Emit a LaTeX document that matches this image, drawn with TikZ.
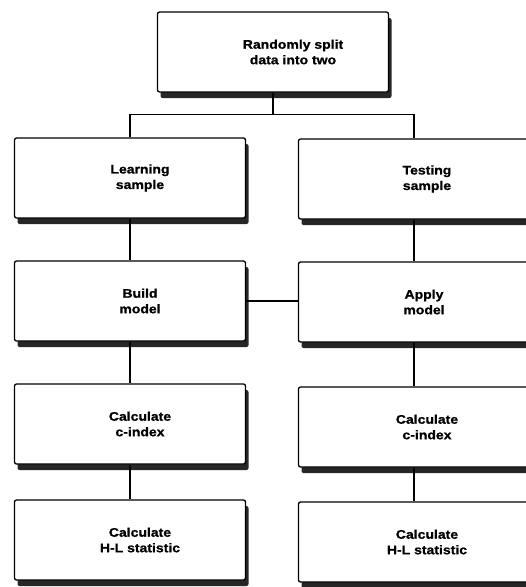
\documentclass[tikz,border=0pt]{standalone}
\usepackage{fontspec}
\setmainfont{Liberation Sans}
\newfontfamily\boxfont[FakeStretch=1.12, BoldFeatures={FakeBold=0.8}]{Liberation Sans}
\usetikzlibrary{shadows}

\tikzset{
  stage/.style={draw, line width=1.3pt, rounded corners=2pt, fill=white,
    minimum width=231pt, minimum height=80pt, inner sep=0pt,
    drop shadow={shadow xshift=3pt, shadow yshift=-6pt, fill=black!85, opacity=1}},
  caption/.style={font=\boxfont\bfseries\fontsize{12.5}{15.5}\selectfont, align=center, xshift=10pt},
  link/.style={line width=1.2pt}
}

\begin{document}
\begin{tikzpicture}[x=1pt, y=-1pt]
            \useasboundingbox (0,0) rectangle (526,587);
            \clip (0,0) rectangle (526,587);

            % top
            \node[stage, label={[caption, xshift=10pt]center:Randomly split\\data into two}] (split) at (273,52) {};

            % learning side
            \node[stage, label={[caption]center:Learning\\sample}] (learn) at (130,178) {};
            \node[stage, label={[caption]center:Build\\model}] (build) at (130,301) {};
            \node[stage, label={[caption]center:Calculate\\c-index}] (cidxL) at (130,424) {};
            \node[stage, label={[caption]center:Calculate\\H-L statistic}] (hlL) at (130,540) {};

            % testing side
            \node[stage, label={[caption, xshift=3pt]center:Testing\\sample}] (test) at (414,179) {};
            \node[stage, label={[caption]center:Apply\\model}] (apply) at (414,302) {};
            \node[stage, label={[caption, xshift=3pt]center:Calculate\\c-index}] (cidxR) at (414,427) {};
            \node[stage, label={[caption, xshift=3pt]center:Calculate\\H-L statistic}] (hlR) at (414,542) {};

            \draw[link] (split.south) -- ++(0,22) coordinate (fork);
            \draw[link] (learn.north) |- (fork) -| (test.north);
            \draw[link] (learn) -- (build);
            \draw[link] (build) -- (cidxL);
            \draw[link] (cidxL) -- (hlL);
            \draw[link] (test) -- (apply);
            \draw[link] (apply) -- (cidxR);
            \draw[link] (cidxR) -- (hlR);
            \draw[link] (build.east) -- (build.east -| apply.west);

        \end{tikzpicture}
\end{document}
